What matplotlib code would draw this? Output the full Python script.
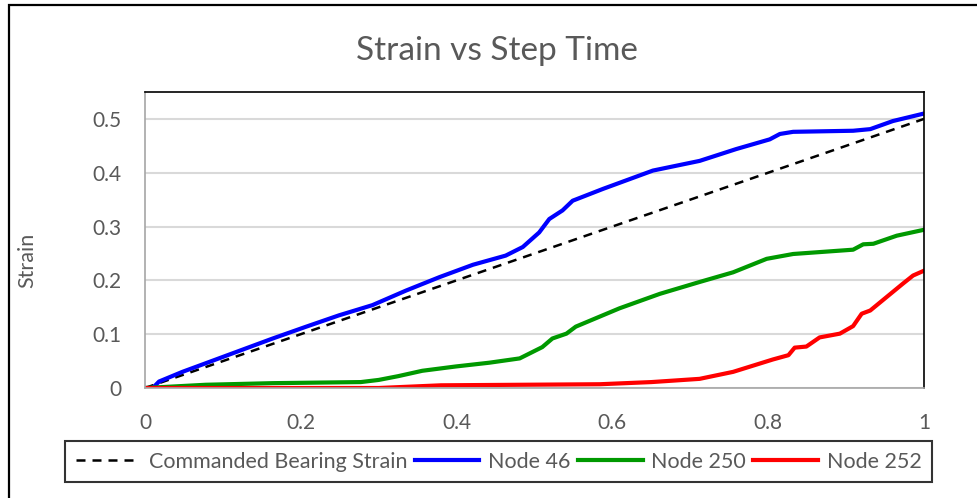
import numpy as np
import matplotlib.pyplot as plt
from matplotlib.patches import Rectangle

plt.rcParams['font.family'] = ['Lato', 'DejaVu Sans']

# dados
t_cmd = [0, 1]
s_cmd = [0, 0.5]

t_n46 = [0, 0.01, 0.018, 0.048, 0.078, 0.121, 0.164, 0.207, 0.249, 0.292, 0.335, 0.378,
         0.421, 0.463, 0.485, 0.506, 0.519, 0.536, 0.549, 0.588, 0.652, 0.712, 0.759,
         0.802, 0.815, 0.832, 0.909, 0.931, 0.960, 1.0]
s_n46 = [0, 0, 0.012, 0.030, 0.046, 0.069, 0.092, 0.114, 0.135, 0.154, 0.181, 0.206,
         0.229, 0.246, 0.262, 0.289, 0.314, 0.330, 0.348, 0.370, 0.404, 0.422, 0.444,
         0.462, 0.472, 0.476, 0.478, 0.481, 0.496, 0.510]

t_n250 = [0, 0.078, 0.164, 0.277, 0.30, 0.325, 0.356, 0.399, 0.442, 0.481, 0.51, 0.523,
          0.541, 0.553, 0.609, 0.661, 0.712, 0.755, 0.798, 0.832, 0.909, 0.922, 0.935,
          0.965, 1.0]
s_n250 = [0, 0.006, 0.009, 0.011, 0.015, 0.022, 0.032, 0.040, 0.047, 0.055, 0.076, 0.092,
          0.101, 0.114, 0.148, 0.175, 0.197, 0.215, 0.240, 0.249, 0.257, 0.267, 0.268,
          0.283, 0.294]

t_n252 = [0, 0.3, 0.38, 0.584, 0.65, 0.712, 0.755, 0.806, 0.826, 0.834, 0.849, 0.866,
          0.892, 0.909, 0.920, 0.931, 0.973, 0.986, 1.0]
s_n252 = [0, 0, 0.005, 0.007, 0.011, 0.017, 0.030, 0.053, 0.061, 0.075, 0.077, 0.094,
          0.101, 0.115, 0.138, 0.144, 0.194, 0.209, 0.218]

cinza = '#595959'

fig = plt.figure(figsize=(9.77, 4.98), dpi=100)
ax = fig.add_axes([145 / 977, 110 / 498, 779 / 977, 296 / 498])

ax.plot(t_cmd, s_cmd, color='black', ls=(0, (3.6, 2.8)), lw=1.8, label='Commanded Bearing Strain')
ax.plot(t_n46, s_n46, color='#0000FF', lw=3.0, label='Node 46')
ax.plot(t_n250, s_n250, color='#009900', lw=3.0, label='Node 250')
ax.plot(t_n252, s_n252, color='#FF0000', lw=3.0, label='Node 252')

ax.set_xlim(0, 1)
ax.set_ylim(0, 0.55)
ax.set_xticks(np.arange(0, 1.01, 0.2))
ax.set_xticklabels(['0', '0.2', '0.4', '0.6', '0.8', '1'])
ax.set_yticks(np.arange(0, 0.51, 0.1))
ax.set_yticklabels(['0', '0.1', '0.2', '0.3', '0.4', '0.5'])
ax.tick_params(length=0, labelsize=15, labelcolor=cinza)
ax.tick_params(axis='x', pad=18)
ax.tick_params(axis='y', pad=17)
ax.grid(axis='y', color='#D9D9D9', lw=1.5)
ax.set_axisbelow(True)

for lado in ['top', 'right']:
    ax.spines[lado].set_color('black')
    ax.spines[lado].set_linewidth(1.2)
for lado in ['left', 'bottom']:
    ax.spines[lado].set_color('#A6A6A6')
    ax.spines[lado].set_linewidth(1.2)

ax.set_ylabel('Strain', fontsize=15.5, color=cinza)
ax.yaxis.set_label_coords((37 - 145) / 779, 0.43)
fig.text(497 / 977, 1 - 51 / 498, 'Strain vs Step Time', fontsize=24, color=cinza,
         ha='center', va='center')

leg = fig.legend(loc='center', bbox_to_anchor=(58 / 977, 14 / 498, 881 / 977, 45 / 498),
                 ncol=4, fontsize=15.5, frameon=True, fancybox=False, handlelength=3.0,
                 handletextpad=0.4, columnspacing=0.35, borderaxespad=0, borderpad=0.5)
leg.get_frame().set_edgecolor('black')
leg.get_frame().set_linewidth(1.5)
for txt in leg.get_texts():
    txt.set_color(cinza)

# moldura externa
fig.patches.append(Rectangle((8.5 / 977, -0.1), 1.2, 1.1 - 5.5 / 498, transform=fig.transFigure,
                             fill=False, edgecolor='black', lw=1.6, clip_on=False))

plt.savefig('out.png', dpi=100)
